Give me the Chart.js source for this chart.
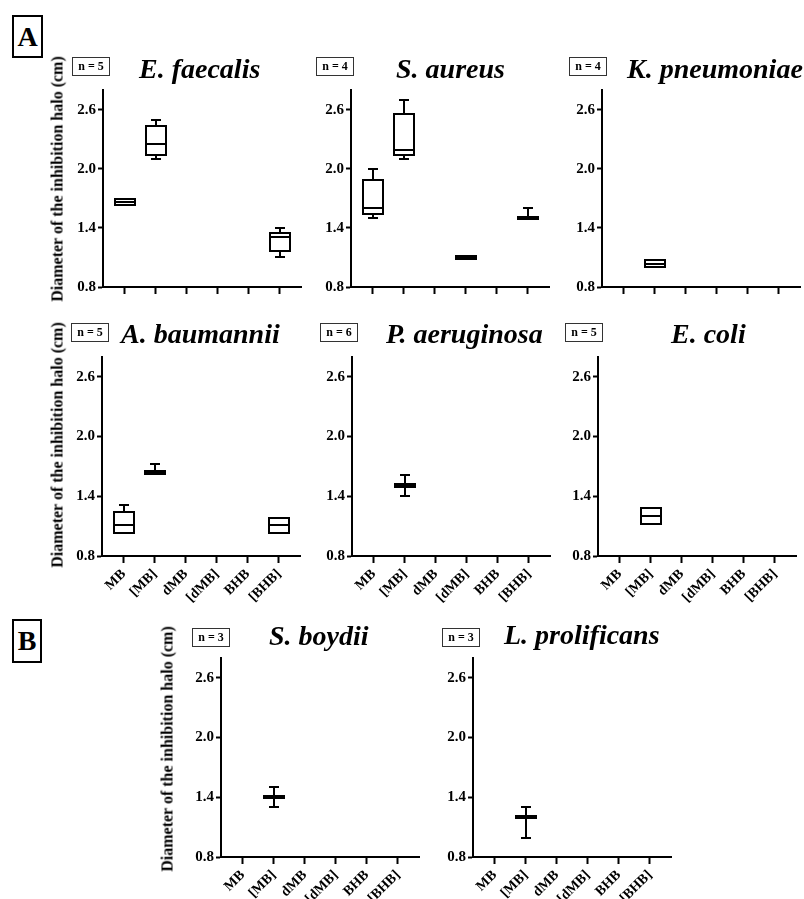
<!DOCTYPE html>
<html><head><meta charset="utf-8">
<script src="https://cdn.jsdelivr.net/npm/chart.js@4.4.1/dist/chart.umd.min.js"></script>
<style>
html,body{margin:0;padding:0;background:#fff;}
#fig{position:relative;width:804px;height:899px;overflow:hidden;background:#fff;font-family:'Liberation Serif','Times New Roman',serif;color:#000;}
.panel{position:absolute;}
.title{position:absolute;font-weight:bold;font-style:italic;font-size:28px;line-height:31px;white-space:nowrap;}
.nbox{position:absolute;border:1px solid #333;font-weight:bold;font-size:12px;line-height:17px;width:38px;height:19px;text-align:center;box-sizing:border-box;white-space:nowrap;}
.ytitle{position:absolute;font-weight:bold;font-size:16px;line-height:17px;white-space:nowrap;transform:translate(-50%,-50%) rotate(-90deg);}
.letter{position:absolute;border:2px solid #000;font-weight:bold;font-size:28px;box-sizing:border-box;display:flex;align-items:center;justify-content:center;}
</style></head>
<body>
<div id="fig">
  <div class="letter" style="left:12px;top:15px;width:31px;height:43px;">A</div>
  <div class="letter" style="left:12px;top:619px;width:30px;height:44px;">B</div>
</div>
<script>
// ---------- data ----------
const categories = ['MB', '[MB]', 'dMB', '[dMB]', 'BHB', '[BHB]'];
const species = ['E. faecalis', 'S. aureus', 'K. pneumoniae', 'A. baumannii', 'P. aeruginosa', 'E. coli', 'S. boydii', 'L. prolificans'];
const nValues = [5, 4, 4, 5, 6, 5, 3, 3];
const yTicks = [0.8, 1.4, 2.0, 2.6];
const yTitle = 'Diameter of the inhibition halo (cm)';

// one row per species, one column per category (null = no data)
const boxMin = [
  [1.63, 2.10, null, null, null, 1.10],
  [1.50, 2.10, null, 1.08, null, 1.49],
  [null, 1.00, null, null, null, null],
  [1.03, 1.62, null, null, null, 1.03],
  [null, 1.40, null, null, null, null],
  [null, 1.12, null, null, null, null],
  [null, 1.30, null, null, null, null],
  [null, 0.99, null, null, null, null]
];
const boxQ1 = [
  [1.63, 2.14, null, null, null, 1.17],
  [1.54, 2.14, null, 1.08, null, 1.49],
  [null, 1.00, null, null, null, null],
  [1.03, 1.62, null, null, null, 1.03],
  [null, 1.49, null, null, null, null],
  [null, 1.12, null, null, null, null],
  [null, 1.39, null, null, null, null],
  [null, 1.19, null, null, null, null]
];
const boxMedian = [
  [1.66, 2.25, null, null, null, 1.31],
  [1.60, 2.19, null, 1.10, null, 1.50],
  [null, 1.035, null, null, null, null],
  [1.11, 1.64, null, null, null, 1.11],
  [null, 1.505, null, null, null, null],
  [null, 1.20, null, null, null, null],
  [null, 1.40, null, null, null, null],
  [null, 1.20, null, null, null, null]
];
const boxQ3 = [
  [1.69, 2.43, null, null, null, 1.35],
  [1.89, 2.56, null, 1.11, null, 1.51],
  [null, 1.07, null, null, null, null],
  [1.24, 1.65, null, null, null, 1.18],
  [null, 1.52, null, null, null, null],
  [null, 1.28, null, null, null, null],
  [null, 1.41, null, null, null, null],
  [null, 1.21, null, null, null, null]
];
const boxMax = [
  [1.69, 2.50, null, null, null, 1.40],
  [2.00, 2.70, null, 1.11, null, 1.60],
  [null, 1.07, null, null, null, null],
  [1.31, 1.72, null, null, null, 1.18],
  [null, 1.61, null, null, null, null],
  [null, 1.28, null, null, null, null],
  [null, 1.50, null, null, null, null],
  [null, 1.30, null, null, null, null]
];

// ---------- layout (pixel positions of each plot area) ----------
const plotLeft   = [103, 351, 602, 102, 352, 598, 221, 473];
const plotTop    = [89, 89, 89, 356, 356, 356, 657, 657];
const plotBottom = [287, 287, 287, 556, 556, 556, 857, 857];
const titleLeft  = [139, 396, 627, 121, 386, 671, 269, 504];
const titleTop   = [53, 53, 53, 318, 318, 318, 620, 619];
const nboxPos    = [[72,57],[316,57],[569,57],[71,323],[320,323],[565,323],[192,628],[442,628]];
const yTitlePos  = {0:[57,179], 3:[57,445], 6:[167,749]};
const PLOT_W = 198, Y_W = 45, PAD_T = 10, PAD_R = 4;

const FONT = "'Liberation Serif','Times New Roman',serif";

// draws box outlines (centred strokes on the bar elements), medians and whiskers
const boxWhiskers = {
  id: 'boxWhiskers',
  afterDatasetsDraw(chart, args, opts) {
    const idx = opts.idx;
    const xs = chart.scales.x, ys = chart.scales.y, ctx = chart.ctx;
    const meta = chart.getDatasetMeta(0);
    ctx.save();
    ctx.strokeStyle = '#000';
    ctx.lineWidth = 2;
    ctx.lineCap = 'butt';
    const cap = 5;
    const R = Math.round;
    const py = v => R(ys.getPixelForValue(v));
    const line = (x1, y1, x2, y2) => { ctx.beginPath(); ctx.moveTo(x1, y1); ctx.lineTo(x2, y2); ctx.stroke(); };
    let k = 0;
    categories.forEach((c, i) => {
      const q1 = boxQ1[idx][i];
      if (q1 == null) return;
      const el = meta.data[k++];
      const x = R(xs.getPixelForValue(i));
      const half = R(el.width / 2);
      const yMin = py(boxMin[idx][i]);
      const yQ1 = py(q1);
      const yMed = py(boxMedian[idx][i]);
      const yQ3 = py(boxQ3[idx][i]);
      const yMax = py(boxMax[idx][i]);
      ctx.strokeRect(x - half, yQ3, 2 * half, yQ1 - yQ3);
      line(x - half, yMed, x + half, yMed);
      if (boxMax[idx][i] > boxQ3[idx][i]) { line(x, yQ3, x, yMax); line(x - cap, yMax, x + cap, yMax); }
      if (boxMin[idx][i] < q1) { line(x, yQ1, x, yMin); line(x - cap, yMin, x + cap, yMin); }
    });
    ctx.restore();
  }
};

const fig = document.getElementById('fig');
species.forEach((name, idx) => {
  const showX = idx >= 3;
  const X_H = showX ? 60 : 12;
  const L = plotLeft[idx], T = plotTop[idx], B = plotBottom[idx];
  const w = Y_W + PLOT_W + PAD_R, h = PAD_T + (B - T) + X_H;
  const div = document.createElement('div');
  div.className = 'panel';
  div.style.left = (L - Y_W) + 'px';
  div.style.top = (T - PAD_T) + 'px';
  div.style.width = w + 'px';
  div.style.height = h + 'px';
  const cv = document.createElement('canvas');
  cv.width = w; cv.height = h;
  cv.style.width = w + 'px'; cv.style.height = h + 'px';
  div.appendChild(cv);
  fig.appendChild(div);

  const t = document.createElement('div');
  t.className = 'title'; t.textContent = name;
  t.style.left = titleLeft[idx] + 'px'; t.style.top = titleTop[idx] + 'px';
  fig.appendChild(t);

  const nb = document.createElement('div');
  nb.className = 'nbox'; nb.textContent = 'n = ' + nValues[idx];
  nb.style.left = nboxPos[idx][0] + 'px'; nb.style.top = nboxPos[idx][1] + 'px';
  fig.appendChild(nb);

  if (yTitlePos[idx]) {
    const yt = document.createElement('div');
    yt.className = 'ytitle'; yt.textContent = yTitle;
    yt.style.left = yTitlePos[idx][0] + 'px'; yt.style.top = yTitlePos[idx][1] + 'px';
    fig.appendChild(yt);
  }

  const data = [];
  categories.forEach((c, i) => {
    if (boxQ1[idx][i] != null) data.push({ x: i, y: [boxQ1[idx][i], boxQ3[idx][i]] });
  });

  new Chart(cv, {
    type: 'bar',
    data: { datasets: [{ data, backgroundColor: '#fff', borderColor: '#000', borderWidth: 0, barThickness: 20, inflateAmount: 0 }] },
    plugins: [boxWhiskers],
    options: {
      responsive: false,
      devicePixelRatio: 1,
      animation: false,
      layout: { padding: { top: PAD_T, right: PAD_R, left: 0, bottom: 0 } },
      plugins: { legend: { display: false }, tooltip: { enabled: false }, boxWhiskers: { idx } },
      scales: {
        x: {
          type: 'linear', min: -0.7, max: 5.68, offset: false,
          grid: { display: true, offset: false, drawOnChartArea: false, drawTicks: true, tickLength: 7, tickWidth: 2, tickColor: '#000' },
          border: { display: true, color: '#000', width: 2 },
          ticks: { display: showX, autoSkip: false, minRotation: 45, maxRotation: 45, padding: 3, color: '#000',
                   font: { family: FONT, weight: 'bold', size: 14 },
                   callback: (v, i) => categories[i] },
          afterBuildTicks: s => { s.ticks = categories.map((c, i) => ({ value: i })); },
          afterFit: s => { s.height = X_H; }
        },
        y: {
          type: 'linear', min: 0.8, max: 2.8,
          grid: { display: true, drawOnChartArea: false, drawTicks: true, tickLength: 5, tickWidth: 2, tickColor: '#000' },
          border: { display: true, color: '#000', width: 2 },
          ticks: { padding: 2, color: '#000', font: { family: FONT, weight: 'bold', size: 15 },
                   callback: v => Number(v).toFixed(1) },
          afterBuildTicks: s => { s.ticks = yTicks.map(v => ({ value: v })); },
          afterFit: s => { s.width = Y_W; }
        }
      }
    }
  });
});
</script>
</body></html>
